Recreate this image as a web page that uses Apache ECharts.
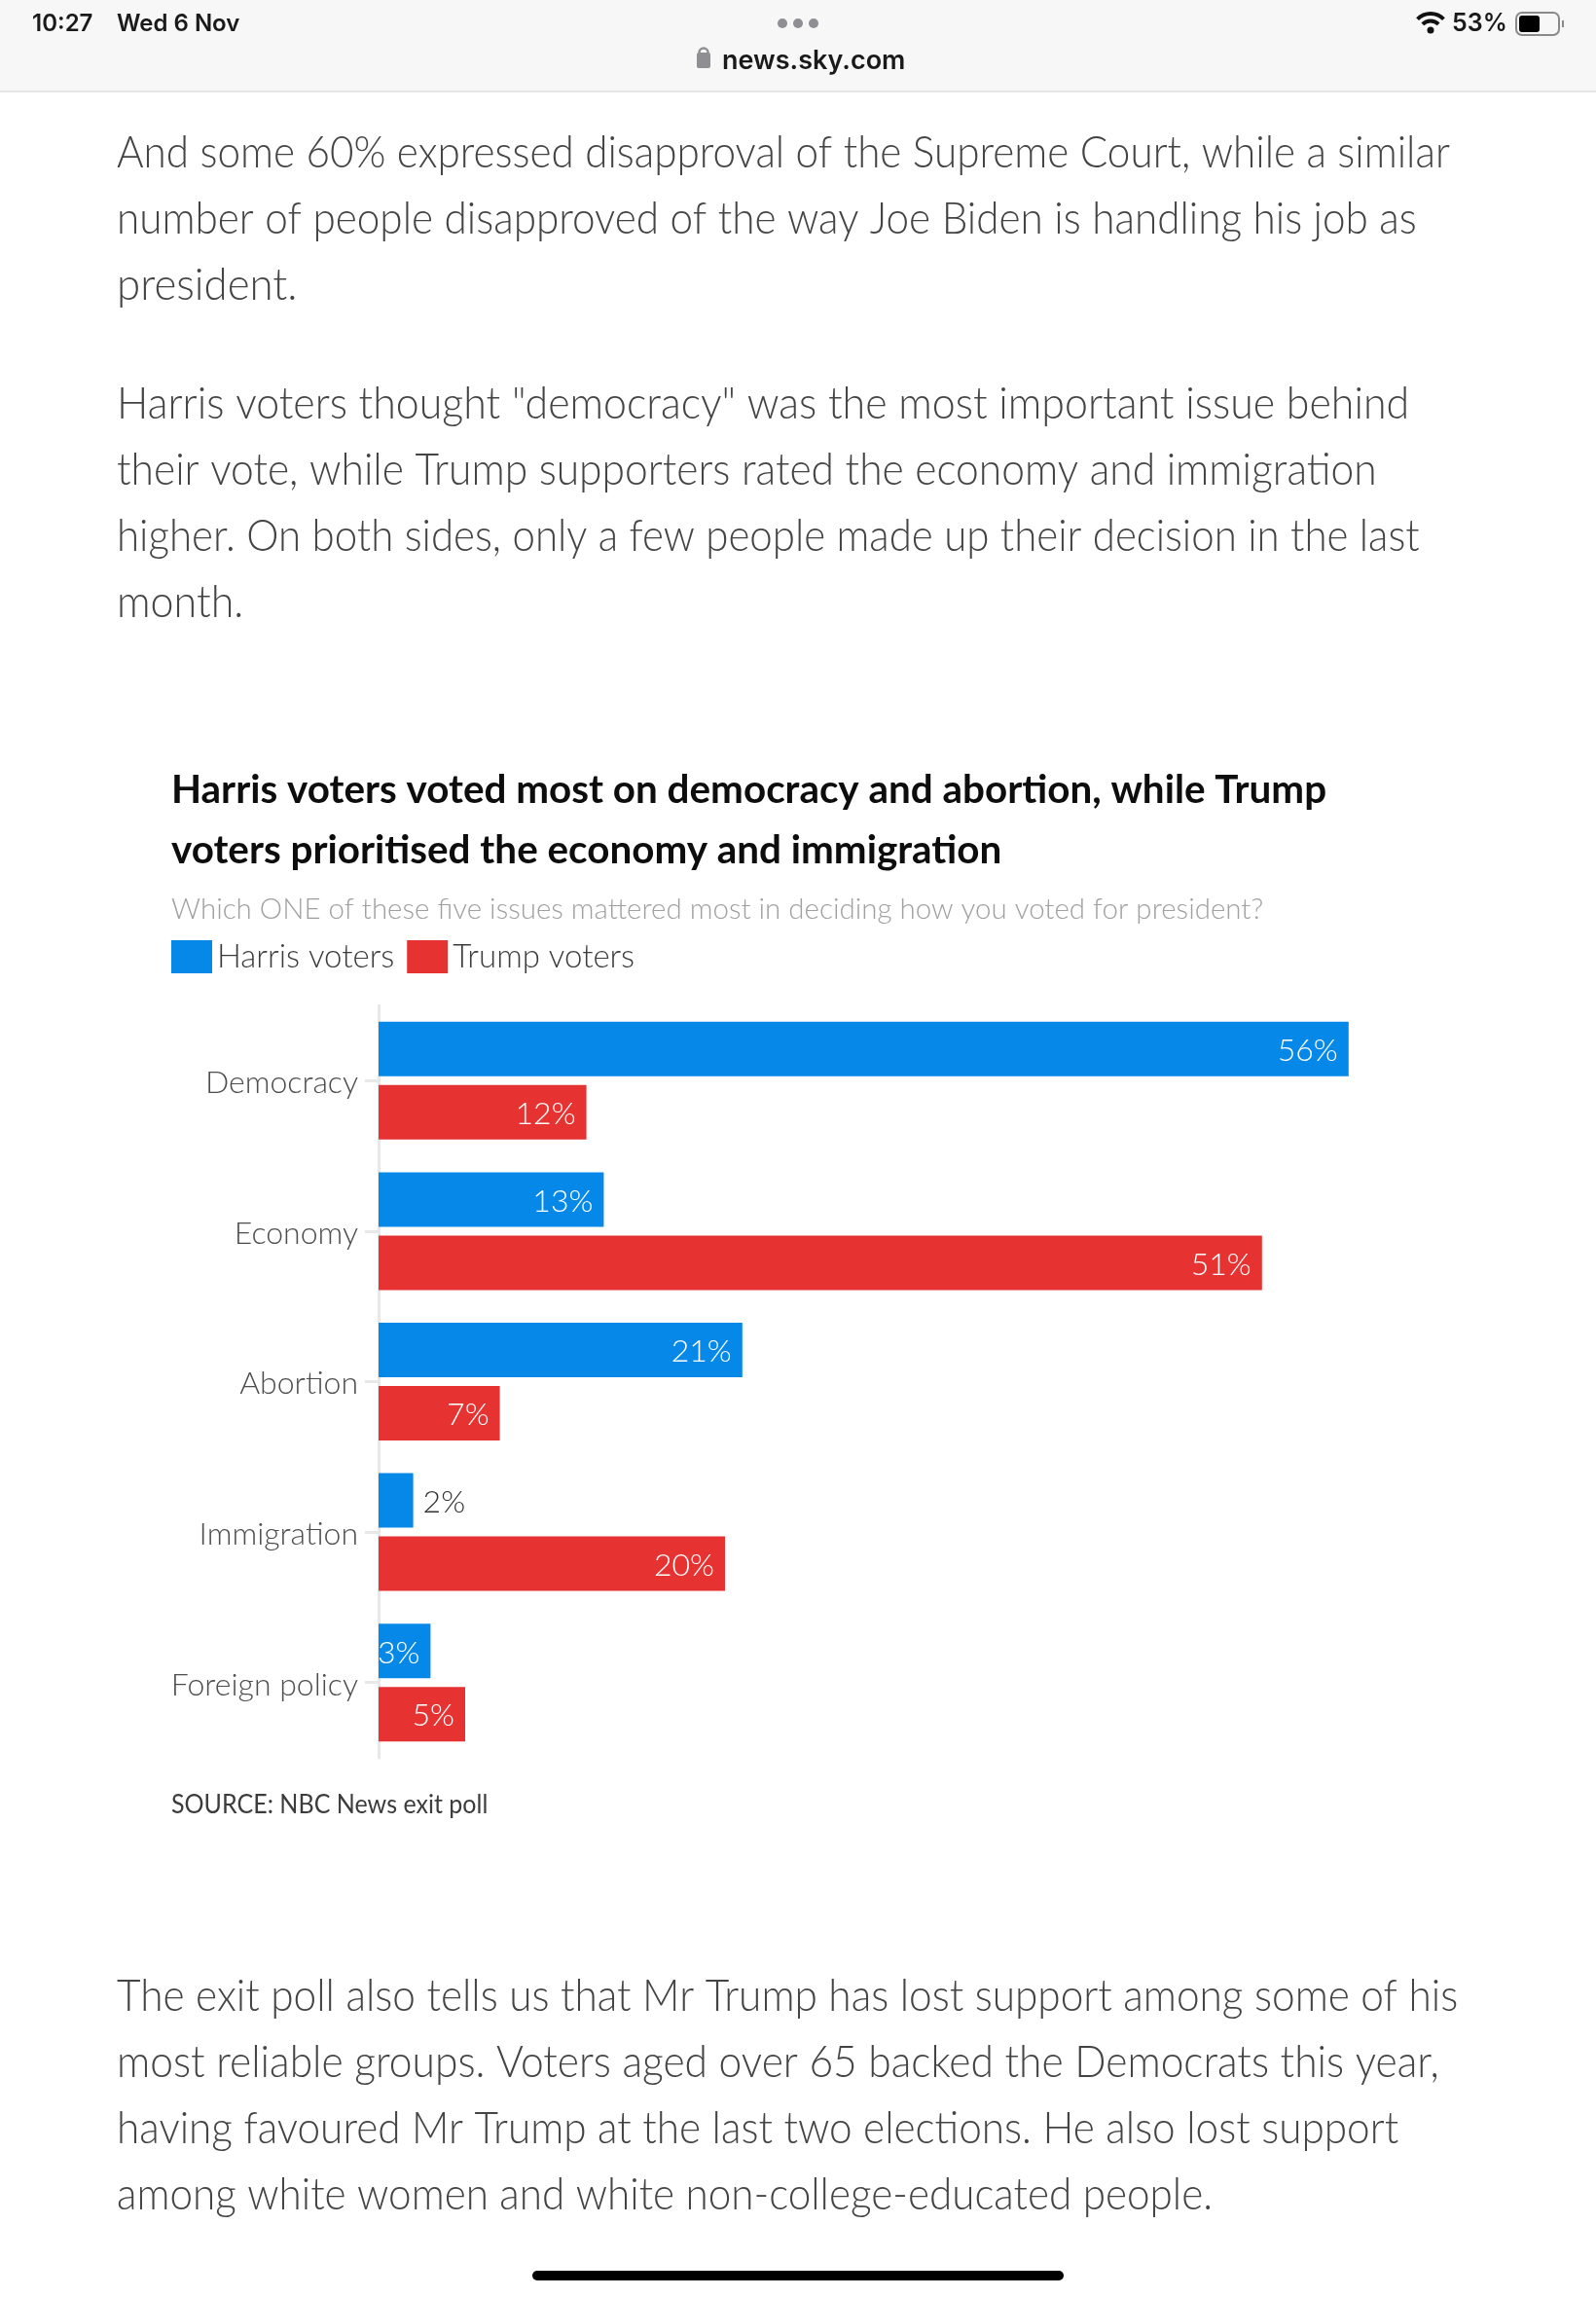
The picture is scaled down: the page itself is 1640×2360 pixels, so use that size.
<!DOCTYPE html>
<html><head><meta charset="utf-8">
<style>html,body{margin:0;padding:0;background:#fff}#c{width:1640px;height:2360px}</style>
<script src="https://cdn.jsdelivr.net/npm/echarts@6/dist/echarts.min.js"></script>
</head><body><div id="c"></div>
<script>
const categories = ['Democracy','Economy','Abortion','Immigration','Foreign policy'];
const harrisVoters = [56,13,21,2,3];
const trumpVoters = [12,51,7,20,5];
const seriesNames = ['Harris voters','Trump voters'];
const headline = ['Harris voters voted most on democracy and abortion, while Trump','voters prioritised the economy and immigration'];
const subtitle = 'Which ONE of these five issues mattered most in deciding how you voted for president?';
const source = 'SOURCE: NBC News exit poll';
const topText = ['And some 60% expressed disapproval of the Supreme Court, while a similar','number of people disapproved of the way Joe Biden is handling his job as','president.'];
const midText = ['Harris voters thought "democracy" was the most important issue behind','their vote, while Trump supporters rated the economy and immigration','higher. On both sides, only a few people made up their decision in the last','month.'];
const endText = ['The exit poll also tells us that Mr Trump has lost support among some of his','most reliable groups. Voters aged over 65 backed the Democrats this year,','having favoured Mr Trump at the last two elections. He also lost support','among white women and white non-college-educated people.'];

const FONT = 'Lato';
const BLUE = '#0588e8', RED = '#e73232';
const txt = (s,x,y,size,fill,weight,sx) => ({type:'text',x,y,scaleX:sx||1,style:{text:s,fontFamily:FONT,fontSize:size,fontWeight:weight||300,fill,textVerticalAlign:'middle',textAlign:'left'}});
const sys = (s,x,y,size) => ({type:'text',x,y,style:{text:s,fontFamily:'Inter',fontSize:size,fontWeight:600,fill:'#1a1a1a',textVerticalAlign:'middle',textAlign:'left'}});
const para = (lines,ys,sx) => lines.map((l,i)=>txt(l,120,ys[i],44.5,'#444',300,sx[i]));

const graphics = [
  {type:'rect',shape:{x:0,y:0,width:1640,height:93},style:{fill:'#f7f7f7'}},
  {type:'rect',shape:{x:0,y:93,width:1640,height:2},style:{fill:'#e6e6e6'}},
  sys('10:27',33,24.5,24),sys('Wed 6 Nov',120,24.5,24),
  {type:'circle',shape:{cx:804,cy:24,r:5},style:{fill:'#8e8e93'}},
  {type:'circle',shape:{cx:820,cy:24,r:5},style:{fill:'#8e8e93'}},
  {type:'circle',shape:{cx:836,cy:24,r:5},style:{fill:'#8e8e93'}},
  {type:'rect',shape:{x:716,y:54,width:14,height:16,r:2},style:{fill:'#8e8e93'}},
  {type:'arc',shape:{cx:723,cy:54,r:4.5,startAngle:Math.PI,endAngle:0},style:{stroke:'#8e8e93',fill:null,lineWidth:2.5}},
  sys('news.sky.com',742,63,27),
  {type:'arc',shape:{cx:1470,cy:33,r:19,startAngle:-Math.PI*0.75,endAngle:-Math.PI*0.25},style:{stroke:'#111',fill:null,lineWidth:4}},
  {type:'arc',shape:{cx:1470,cy:33,r:11.5,startAngle:-Math.PI*0.75,endAngle:-Math.PI*0.25},style:{stroke:'#111',fill:null,lineWidth:4}},
  {type:'circle',shape:{cx:1470,cy:31,r:3.5},style:{fill:'#111'}},
  sys('53%',1492,24.5,25),
  {type:'rect',shape:{x:1558,y:13,width:44,height:23,r:6},style:{fill:'none',stroke:'#8a8a8a',lineWidth:2}},
  {type:'rect',shape:{x:1561,y:16,width:21,height:17,r:3},style:{fill:'#000'}},
  {type:'rect',shape:{x:1605,y:21,width:2,height:7},style:{fill:'#8a8a8a'}},
  ...para(topText,[158,226,294],[.949,.95,.984]),
  ...para(midText,[416,484,552,620],[.964,.956,.944,.966]),
  txt(headline[0],176,811.5,40.4,'#0d0d0d',700),
  txt(headline[1],176,873.5,40.4,'#0d0d0d',700),
  txt(subtitle,176,934,30,'#a0a0a0',300,.983),
  txt(source,176,1854.5,27,'#3c3c3c',400,.927),
  ...para(endText,[2052,2120,2188,2256],[.952,.956,.951,.949]),
  {type:'rect',shape:{x:547,y:2333,width:546,height:10,r:5},style:{fill:'#000'}}
];

const labelFor = v => v <= 2
  ? {show:true,position:'right',distance:10,offset:[0,2],color:'#333',formatter:'{c}%',fontFamily:FONT,fontWeight:300,fontSize:32}
  : {show:true,position:'insideRight',distance:11,offset:[0,2],color:'#fff',formatter:'{c}%',fontFamily:FONT,fontWeight:300,fontSize:32};
const mk = (name,vals,color) => ({name,type:'bar',barWidth:56,barGap:'16%',itemStyle:{color},
  data:vals.map(v=>({value:v,label:labelFor(v)}))});

const chart = echarts.init(document.getElementById('c'),null,{width:1640,height:2360});
chart.setOption({
  animation:false,
  backgroundColor:'#fff',
  graphic:graphics,
  legend:{left:176,top:966,padding:0,itemWidth:42,itemHeight:34,itemGap:13,icon:'rect',data:seriesNames,
    textStyle:{fontFamily:FONT,fontWeight:300,fontSize:33,color:'#3c3c3c'}},
  grid:{left:389,top:1033,width:1068,height:773},
  xAxis:{type:'value',min:0,max:60,show:false},
  yAxis:{type:'category',inverse:true,data:categories,
    axisLine:{lineStyle:{color:'#e8e8e8',width:3}},
    axisTick:{show:true,alignWithLabel:true,length:14,lineStyle:{color:'#e8e8e8',width:3}},
    axisLabel:{margin:21,formatter:v=>'{a|'+v+'}',
      rich:{a:{color:'#4d4d4d',fontFamily:FONT,fontWeight:300,fontSize:32,padding:[5,0,0,0]}}}},
  series:[mk(seriesNames[0],harrisVoters,BLUE),mk(seriesNames[1],trumpVoters,RED)]
});
</script></body></html>
